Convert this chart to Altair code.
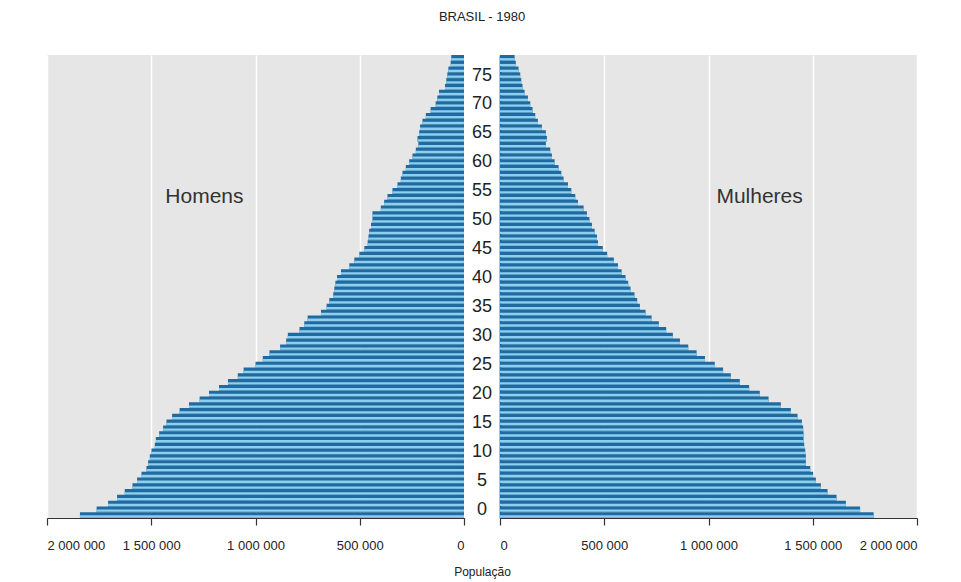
import altair as alt
import pandas as pd

ages = list(range(80))
homens = [1842000, 1762000, 1707000, 1664000, 1627000, 1590000, 1568000, 1547000, 1523000, 1515000,
          1507000, 1499000, 1483000, 1478000, 1462000, 1443000, 1427000, 1400000, 1364000, 1319000,
          1268000, 1223000, 1175000, 1132000, 1085000, 1057000, 1000000, 965000, 933000, 882000,
          853000, 845000, 789000, 766000, 750000, 686000, 659000, 646000, 627000, 622000,
          617000, 609000, 590000, 550000, 526000, 502000, 478000, 462000, 458000, 455000,
          446000, 439000, 439000, 399000, 383000, 367000, 343000, 319000, 303000, 295000,
          279000, 263000, 247000, 231000, 219000, 223000, 215000, 211000, 199000, 183000,
          160000, 136000, 128000, 120000, 91000, 85000, 80000, 75000, 64000, 61000]
mulheres = [1792000, 1727000, 1659000, 1614000, 1571000, 1539000, 1515000, 1502000, 1488000, 1467000,
            1467000, 1464000, 1459000, 1456000, 1456000, 1454000, 1448000, 1427000, 1395000, 1347000,
            1288000, 1246000, 1195000, 1150000, 1107000, 1070000, 1030000, 983000, 943000, 903000,
            863000, 829000, 797000, 762000, 727000, 698000, 671000, 658000, 645000, 626000,
            615000, 602000, 583000, 566000, 546000, 514000, 493000, 470000, 465000, 454000,
            441000, 429000, 417000, 401000, 374000, 361000, 342000, 326000, 305000, 294000,
            281000, 262000, 249000, 241000, 220000, 225000, 220000, 201000, 182000, 169000,
            156000, 145000, 134000, 118000, 108000, 102000, 97000, 89000, 76000, 70000]
age_labels = list(range(0, 80, 5))
tick_values = [0, 500000, 1000000, 1500000, 2000000]
panel_labels = ["Homens", "Mulheres"]

DARK = "#1f6a9f"
LIGHT = "#8ccff0"
BG = "#e6e6e6"
SANS = "Liberation Sans, Arial, sans-serif"

df = pd.DataFrame({"idade": ages, "Homens": homens, "Mulheres": mulheres})
lab_df = pd.DataFrame({"idade": age_labels})

W = 417
H = 463
ydom = alt.Scale(domain=[0, 80], nice=False, zero=False)


def panel(field, reverse, orient_y):
    base = alt.Chart(df).transform_calculate(
        y0="datum.idade", y1="datum.idade + 1",
        yl0="datum.idade + 0.06", yl1="datum.idade + 0.46", zero="0"
    )
    xaxis = alt.Axis(
        values=tick_values, title=None, grid=True, gridColor="white", gridWidth=1.5,
        domainColor="#333", domainWidth=1.2, tickColor="#333", tickSize=7, tickWidth=1.2,
        labelFont=SANS, labelFontSize=13, labelColor="#222", labelPadding=14,
        labelExpr="replace(format(datum.value, ','), regexp(',', 'g'), ' ')",
    )
    xs = alt.Scale(domain=[0, 2000000], reverse=reverse, nice=False)
    dark = base.mark_bar(color=DARK).encode(
        x=alt.X(f"{field}:Q", scale=xs, axis=xaxis),
        x2="zero:Q",
        y=alt.Y("y0:Q", scale=ydom, axis=alt.Axis(orient=orient_y, labels=False, ticks=False,
                                                   grid=False, title=None, domainColor="#222",
                                                   domainWidth=1.6)),
        y2="y1:Q",
    )
    light = base.mark_bar(color=LIGHT).encode(
        x=alt.X(f"{field}:Q", scale=xs),
        x2="zero:Q",
        y=alt.Y("yl0:Q", scale=ydom),
        y2="yl1:Q",
    )
    txt = alt.Chart(pd.DataFrame({"t": [field], "v": [1245000], "a": [55.4]})).mark_text(
        font=SANS, fontSize=21, color="#333"
    ).encode(x=alt.X("v:Q", scale=xs), y=alt.Y("a:Q", scale=ydom), text="t:N")
    return alt.layer(dark, light, txt).properties(
        width=W, height=H, view=alt.ViewBackground(fill=BG, stroke=None)
    )


left = panel(panel_labels[0], True, "right")
right = panel(panel_labels[1], False, "left")

middle = alt.Chart(lab_df).transform_calculate(
    yy="datum.idade + 1.45", mid="0.5"
).mark_text(font=SANS, fontSize=18, color="#222").encode(
    x=alt.X("mid:Q", scale=alt.Scale(domain=[0, 1]),
            axis=alt.Axis(title="População", labels=False, ticks=False, domain=False, grid=False,
                          titleFont=SANS, titleFontSize=12, titleFontWeight="normal",
                          titleColor="#222", titlePadding=48)),
    y=alt.Y("yy:Q", scale=ydom, axis=None),
    text="idade:N",
).properties(width=36, height=H, view=alt.ViewBackground(fill="white", stroke=None))

chart = alt.hconcat(left, middle, right, spacing=0, bounds="flush").properties(
    title=alt.TitleParams("BRASIL - 1980", font=SANS, fontSize=13, fontWeight="normal",
                          color="#222", anchor="middle", offset=31),
    padding={"left": 38, "top": 3, "right": 5, "bottom": 5},
).configure_view(stroke=None)

chart.save("out.html", embed_options={"renderer": "svg", "actions": False})
